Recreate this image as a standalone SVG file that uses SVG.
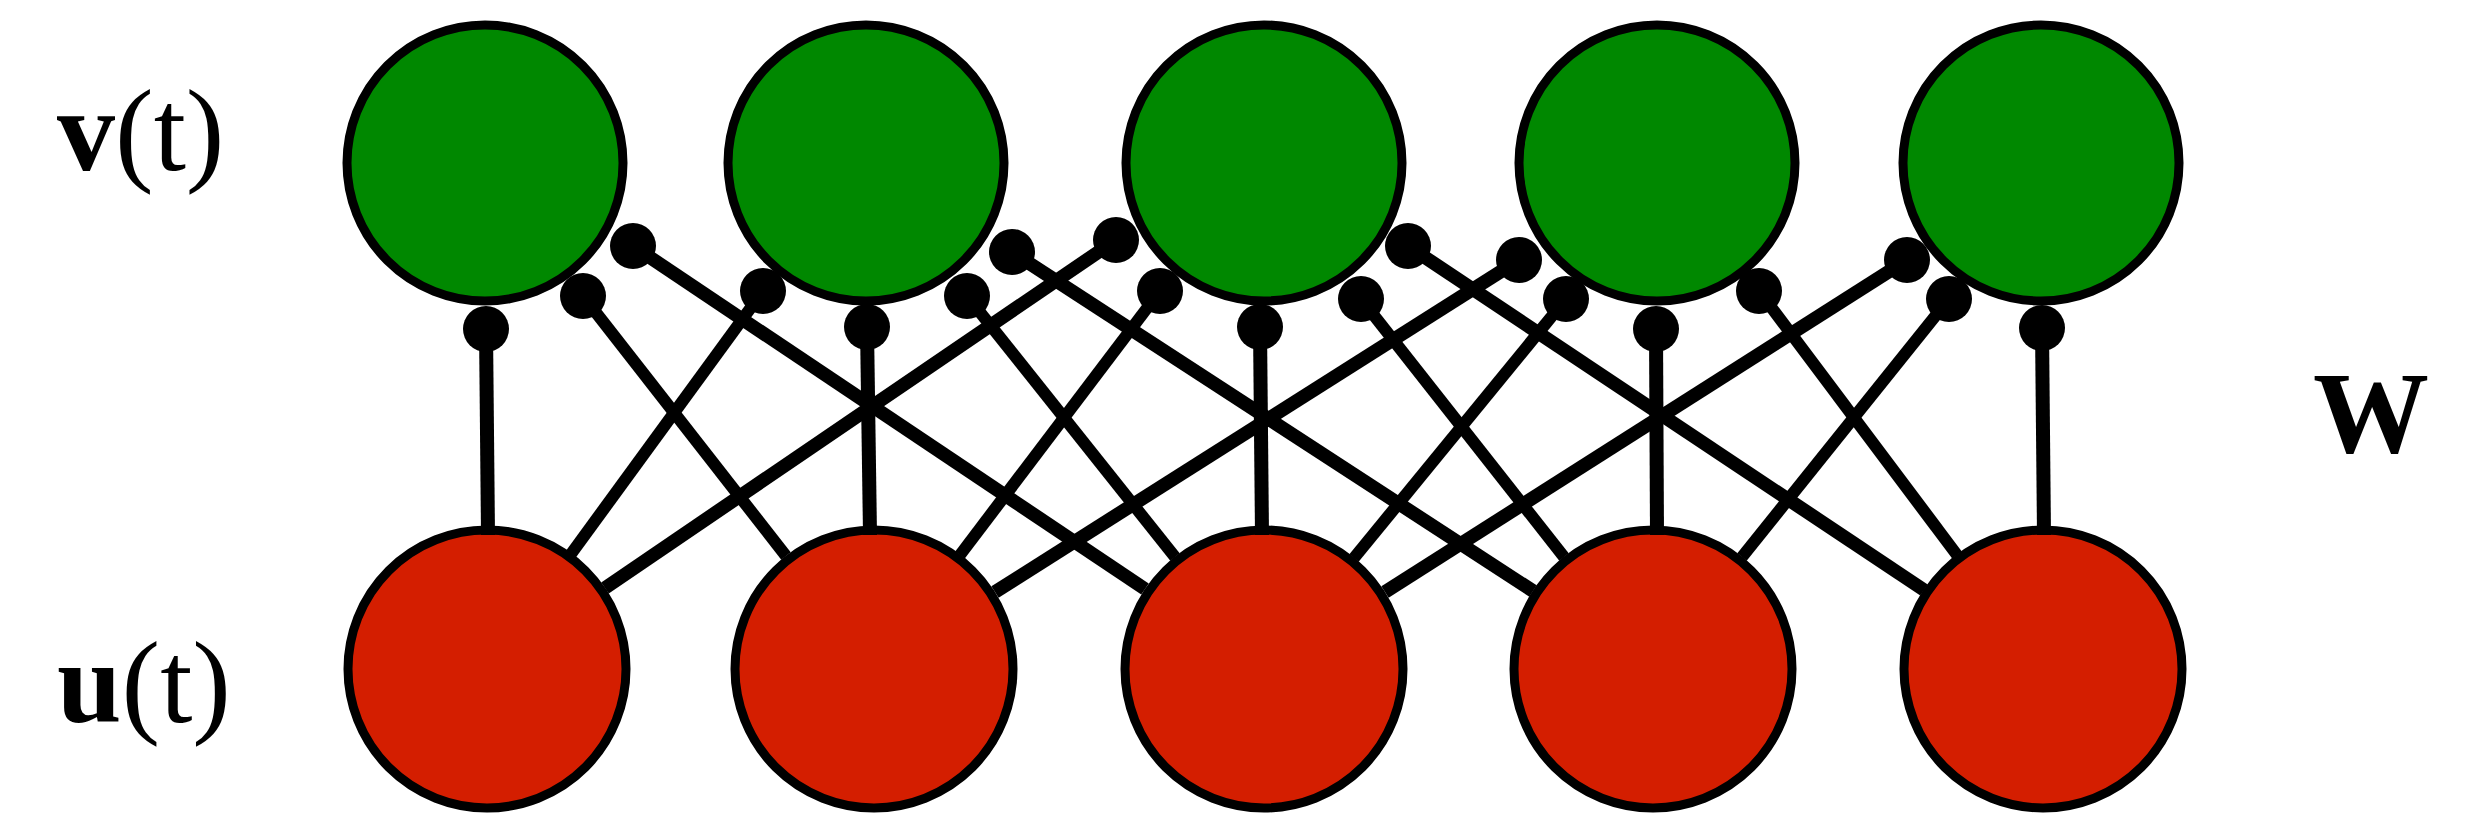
<svg xmlns="http://www.w3.org/2000/svg" width="2487" height="817" viewBox="0 0 2487 817">
<style>
.bg{fill:#ffffff}
.v{fill:#008800;stroke:#000;stroke-width:9}
.u{fill:#d41e00;stroke:#000;stroke-width:9}
.near{stroke:#000;stroke-width:12;fill:none}
.far{stroke:#000;stroke-width:13.5;fill:none}
.vert{stroke:#000;stroke-width:14;fill:none}
.dot{fill:#000}
.lbl{font-family:"Liberation Serif","Times New Roman",serif;fill:#000;font-size:116px}
</style>
<rect class="bg" x="0" y="0" width="2487" height="817"/>
<g id="labels">
<text class="lbl" x="57" y="170"><tspan font-weight="bold">v</tspan>(t)</text>
<text class="lbl" x="57" y="722"><tspan font-weight="bold">u</tspan>(t)</text>
<text class="lbl" x="2313" y="452" font-size="118" font-weight="bold">W</text>
</g>
<g id="v1"><circle class="v" cx="485" cy="163" r="138"/></g>
<g id="v2"><circle class="v" cx="866" cy="163" r="138"/></g>
<g id="v3"><circle class="v" cx="1264" cy="163" r="138"/></g>
<g id="v4"><circle class="v" cx="1657" cy="163" r="138"/></g>
<g id="v5"><circle class="v" cx="2041" cy="163" r="138"/></g>
<g id="u1"><circle class="u" cx="487" cy="669" r="139"/></g>
<g id="u2"><circle class="u" cx="874" cy="669" r="139"/></g>
<g id="u3"><circle class="u" cx="1264" cy="669" r="139"/></g>
<g id="u4"><circle class="u" cx="1653" cy="669" r="139"/></g>
<g id="u5"><circle class="u" cx="2043" cy="669" r="139"/></g>
<g id="connectors">
<line class="vert" x1="486" y1="329" x2="488" y2="535"/>
<line class="vert" x1="867" y1="327" x2="870" y2="535"/>
<line class="vert" x1="1260" y1="327" x2="1262" y2="535"/>
<line class="vert" x1="1656" y1="329" x2="1657" y2="535"/>
<line class="vert" x1="2042" y1="328" x2="2044" y2="535"/>
<line class="near" x1="583" y1="296" x2="786" y2="556"/>
<line class="far" x1="633" y1="246" x2="1145" y2="589"/>
<line class="near" x1="763" y1="291" x2="571" y2="554"/>
<line class="near" x1="967" y1="296" x2="1175" y2="557"/>
<line class="far" x1="1012" y1="252" x2="1533" y2="591"/>
<line class="far" x1="1116" y1="240" x2="605" y2="588"/>
<line class="near" x1="1160" y1="291" x2="960" y2="555"/>
<line class="near" x1="1361" y1="299" x2="1564" y2="557"/>
<line class="far" x1="1408" y1="246" x2="1924" y2="590"/>
<line class="far" x1="1519" y1="260" x2="995" y2="592"/>
<line class="near" x1="1566" y1="299" x2="1354" y2="558"/>
<line class="near" x1="1759" y1="291" x2="1957" y2="555"/>
<line class="far" x1="1907" y1="260" x2="1385" y2="592"/>
<line class="near" x1="1949" y1="299" x2="1742" y2="557"/>
<circle class="dot" cx="486" cy="329" r="23"/>
<circle class="dot" cx="867" cy="327" r="23"/>
<circle class="dot" cx="1260" cy="327" r="23"/>
<circle class="dot" cx="1656" cy="329" r="23"/>
<circle class="dot" cx="2042" cy="328" r="23"/>
<circle class="dot" cx="583" cy="296" r="23"/>
<circle class="dot" cx="633" cy="246" r="23"/>
<circle class="dot" cx="763" cy="291" r="23"/>
<circle class="dot" cx="967" cy="296" r="23"/>
<circle class="dot" cx="1012" cy="252" r="23"/>
<circle class="dot" cx="1116" cy="240" r="23"/>
<circle class="dot" cx="1160" cy="291" r="23"/>
<circle class="dot" cx="1361" cy="299" r="23"/>
<circle class="dot" cx="1408" cy="246" r="23"/>
<circle class="dot" cx="1519" cy="260" r="23"/>
<circle class="dot" cx="1566" cy="299" r="23"/>
<circle class="dot" cx="1759" cy="291" r="23"/>
<circle class="dot" cx="1907" cy="260" r="23"/>
<circle class="dot" cx="1949" cy="299" r="23"/>
</g>
</svg>
